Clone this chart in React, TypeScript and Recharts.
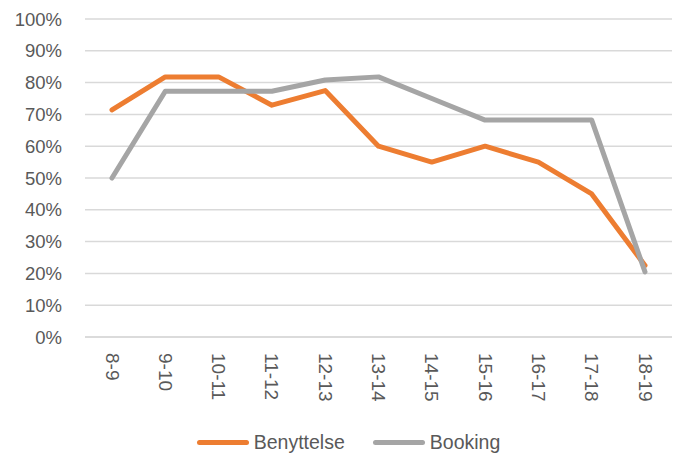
import { LineChart, Line, XAxis, YAxis, CartesianGrid, Legend } from 'recharts';

const hours = ['8-9', '9-10', '10-11', '11-12', '12-13', '13-14', '14-15', '15-16', '16-17', '17-18', '18-19'];
const benyttelse = [0.714, 0.818, 0.818, 0.729, 0.775, 0.6, 0.55, 0.6, 0.55, 0.45, 0.225];
const booking = [0.5, 0.773, 0.773, 0.773, 0.808, 0.818, 0.75, 0.682, 0.682, 0.682, 0.205];
const yTicks = [0, 0.1, 0.2, 0.3, 0.4, 0.5, 0.6, 0.7, 0.8, 0.9, 1];

const COLORS = {
  benyttelse: '#ED7D31',
  booking: '#A5A5A5',
  grid: '#D9D9D9',
  text: '#595959',
};

const FONT = '"Liberation Sans", Arial, sans-serif';

const data = hours.map((h, i) => ({ hour: h, Benyttelse: benyttelse[i], Booking: booking[i] }));

function HourTick({ x, y, payload }: any) {
  return (
    <text
      x={x}
      y={y}
      transform={`rotate(90, ${x}, ${y})`}
      textAnchor="start"
      dominantBaseline="central"
      fill={COLORS.text}
      fontSize={19}
      fontFamily={FONT}
    >
      {payload.value}
    </text>
  );
}

function LegendBox() {
  const item = (color: string, label: string) => (
    <span style={{ display: 'inline-flex', alignItems: 'center', margin: '0 14px' }}>
      <span style={{ display: 'inline-block', width: 52, height: 5, background: color, borderRadius: 3, marginRight: 5 }} />
      <span style={{ color: COLORS.text, fontSize: 19.5, fontFamily: FONT }}>{label}</span>
    </span>
  );
  return (
    <div style={{ display: 'flex', justifyContent: 'center', paddingTop: 14, paddingLeft: 25 }}>
      {item(COLORS.benyttelse, 'Benyttelse')}
      {item(COLORS.booking, 'Booking')}
    </div>
  );
}

export default function App() {
  return (
    <div style={{ position: 'absolute', left: 0, top: 0, background: '#fff' }}>
      <LineChart width={676} height={454} data={data} margin={{ top: 19, right: 4, left: 0, bottom: 0 }}>
        <CartesianGrid vertical={false} stroke={COLORS.grid} strokeWidth={1.5} />
        <XAxis
          dataKey="hour"
          height={80}
          interval={0}
          padding={{ left: 27, right: 27 }}
          axisLine={{ stroke: COLORS.grid, strokeWidth: 1.5 }}
          tickLine={false}
          tickSize={0}
          tickMargin={16}
          tick={<HourTick />}
        />
        <YAxis
          width={85}
          domain={[0, 1]}
          ticks={yTicks}
          tickFormatter={(v: number) => `${Math.round(v * 100)}%`}
          axisLine={false}
          tickLine={false}
          tickSize={0}
          tickMargin={23}
          tick={{ fill: COLORS.text, fontSize: 18.5, fontFamily: FONT }}
        />
        <Legend verticalAlign="bottom" height={37} content={<LegendBox />} />
        <Line
          type="linear"
          dataKey="Benyttelse"
          stroke={COLORS.benyttelse}
          strokeWidth={5}
          strokeLinejoin="round"
          strokeLinecap="round"
          dot={false}
          isAnimationActive={false}
        />
        <Line
          type="linear"
          dataKey="Booking"
          stroke={COLORS.booking}
          strokeWidth={5}
          strokeLinejoin="round"
          strokeLinecap="round"
          dot={false}
          isAnimationActive={false}
        />
      </LineChart>
    </div>
  );
}
